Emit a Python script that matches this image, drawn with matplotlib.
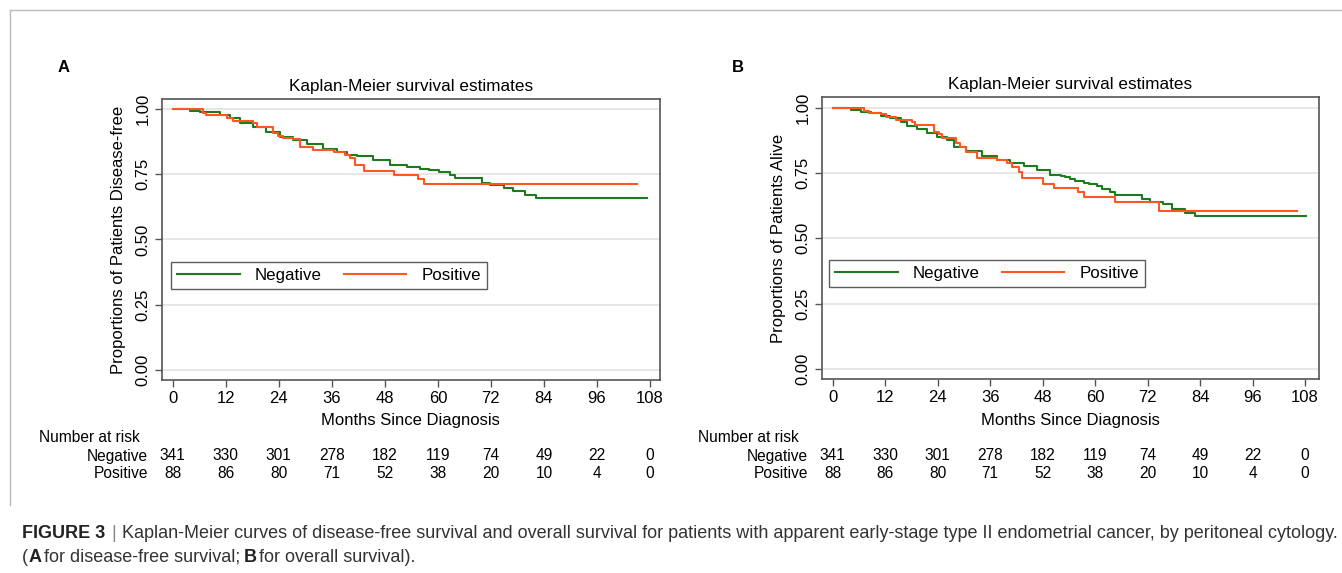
import matplotlib
matplotlib.use("Agg")
import matplotlib.pyplot as plt
from matplotlib.lines import Line2D
from matplotlib.transforms import blended_transform_factory
from matplotlib import font_manager

plt.rcParams['font.family'] = ['Liberation Sans', 'DejaVu Sans']

# ---------------- data ----------------
groups = ["Negative", "Positive"]
xticks = [0, 12, 24, 36, 48, 60, 72, 84, 96, 108]
yticks = [0.00, 0.25, 0.50, 0.75, 1.00]

# Panel A: disease-free survival
a_neg_t = [0, 3.9, 6.1, 10.7, 12.9, 15.2, 18.2, 21.2, 24.3, 27.3, 30.3, 34.1, 37.1, 39.4, 41.7,
           45.4, 49.2, 53.0, 56.0, 57.9, 60.2, 62.8, 63.9, 70.0, 71.9, 74.9, 77.0, 79.8, 82.1, 107.3]
a_neg_s = [1.0, 0.994, 0.989, 0.978, 0.964, 0.945, 0.930, 0.913, 0.894, 0.881, 0.866, 0.847, 0.837,
           0.824, 0.818, 0.805, 0.786, 0.779, 0.770, 0.767, 0.758, 0.747, 0.735, 0.718, 0.707, 0.696,
           0.684, 0.671, 0.658, 0.658]
a_pos_t = [0, 6.9, 7.6, 12.2, 13.7, 18.2, 19.0, 22.7, 23.9, 25.0, 27.3, 28.8, 31.8, 36.4, 39.0,
           40.1, 41.3, 43.2, 50.0, 55.6, 56.9, 105.1]
a_pos_s = [1.0, 0.986, 0.977, 0.964, 0.954, 0.945, 0.932, 0.909, 0.897, 0.888, 0.884, 0.853, 0.841,
           0.837, 0.824, 0.811, 0.786, 0.764, 0.747, 0.731, 0.713, 0.713]

# Panel B: overall survival
b_neg_t = [0, 4.1, 6.4, 8.7, 11.0, 13.2, 15.5, 17.0, 19.3, 21.6, 23.9, 26.2, 27.7, 30.4, 34.2, 37.6,
           40.6, 43.7, 46.7, 49.8, 52.1, 53.2, 54.3, 55.5, 57.4, 58.5, 60.4, 61.6, 63.5, 64.6, 70.7,
           72.6, 75.6, 77.5, 80.6, 82.9, 108.2]
b_neg_s = [1.0, 0.991, 0.985, 0.978, 0.969, 0.959, 0.944, 0.930, 0.917, 0.904, 0.889, 0.876, 0.851,
           0.835, 0.816, 0.800, 0.787, 0.777, 0.761, 0.742, 0.739, 0.733, 0.726, 0.721, 0.713, 0.708,
           0.700, 0.688, 0.679, 0.665, 0.649, 0.640, 0.630, 0.612, 0.598, 0.587, 0.587]
b_pos_t = [0, 7.2, 8.3, 11.0, 12.1, 14.4, 18.2, 18.9, 23.1, 24.3, 25.0, 28.1, 29.2, 30.4, 33.0, 37.6,
           39.9, 41.0, 42.5, 43.3, 48.2, 50.5, 56.2, 57.4, 64.6, 74.5, 106.1]
b_pos_s = [1.0, 0.989, 0.978, 0.976, 0.963, 0.953, 0.946, 0.934, 0.908, 0.899, 0.885, 0.864, 0.851,
           0.832, 0.806, 0.800, 0.790, 0.774, 0.755, 0.730, 0.708, 0.691, 0.679, 0.659, 0.640, 0.606,
           0.606]

risk_neg = [341, 330, 301, 278, 182, 119, 74, 49, 22, 0]
risk_pos = [88, 86, 80, 71, 52, 38, 20, 10, 4, 0]

titles = ["Kaplan-Meier survival estimates", "Kaplan-Meier survival estimates"]
ylabels = ["Proportions of Patients Disease-free", "Proportions of Patients Alive"]
xlabel = "Months Since Diagnosis"
panel_letters = ["A", "B"]
caption_bold = "FIGURE 3"
caption_rest = ("Kaplan-Meier curves of disease-free survival and overall survival for patients with "
                "apparent early-stage type II endometrial cancer, by peritoneal cytology.")

GREEN = "#1f7a1f"
ORANGE = "#ff5722"
SPINE = "#555555"

W, H = 1342, 573
fig = plt.figure(figsize=(W / 100, H / 100), dpi=100)
fig.patch.set_facecolor("white")


def px_axes(l, t, r, b):
    return fig.add_axes([l / W, 1 - b / H, (r - l) / W, (b - t) / H])


# figure border (thin light gray)
fig.add_artist(Line2D([10 / W, 1.0], [1 - 10 / H, 1 - 10 / H], color="#bbbbbb", lw=1.0,
                      transform=fig.transFigure))
fig.add_artist(Line2D([10 / W, 10 / W], [1 - 10 / H, 1 - 505 / H], color="#bbbbbb", lw=1.0,
                      transform=fig.transFigure))

panels = [
    dict(box=(161.7, 99, 660, 380), xlim=(-2.49, 110.26), ylim=(-0.0383, 1.0383),
         neg=(a_neg_t, a_neg_s), pos=(a_pos_t, a_pos_s), letter_xy=(64, 68),
         risk_label_x=148, nar_x=39, legend_px=(171, 258, 487, 289), ylab_x=126),
    dict(box=(821.7, 97.3, 1319.3, 379.3), xlim=(-2.52, 111.27), ylim=(-0.0394, 1.0398),
         neg=(b_neg_t, b_neg_s), pos=(b_pos_t, b_pos_s), letter_xy=(738, 68),
         risk_label_x=808, nar_x=698, legend_px=(829, 256, 1145, 287), ylab_x=786),
]

for i, p in enumerate(panels):
    l, t, r, b = p["box"]
    ax = px_axes(l, t, r, b)
    ax.set_xlim(*p["xlim"])
    ax.set_ylim(*p["ylim"])
    for y in yticks:
        ax.axhline(y, color="#e3e3e3", lw=1.2, zorder=0)
    ln1, = ax.step(p["neg"][0], p["neg"][1], where="post", color=GREEN, lw=1.5, zorder=3)
    ln2, = ax.step(p["pos"][0], p["pos"][1], where="post", color=ORANGE, lw=1.5, zorder=3)

    ax.set_xticks(xticks)
    ax.set_xticklabels([str(x) for x in xticks], fontsize=12)
    ax.set_yticks(yticks)
    ax.set_yticklabels([f"{y:.2f}" for y in yticks], fontsize=12, rotation=90, va="center")
    ax.tick_params(axis="both", direction="out", length=5, width=1, color=SPINE, pad=3)
    for s in ax.spines.values():
        s.set_color(SPINE)
        s.set_linewidth(1.2)

    ax.set_title(titles[i], fontsize=12.3, pad=6)
    ax.set_xlabel(xlabel, fontsize=12)
    ax.xaxis.set_label_coords(0.5, -(413 - b) / (b - t))
    ax.set_ylabel(ylabels[i], fontsize=12)
    ax.yaxis.set_label_coords(-(l - p["ylab_x"]) / (r - l), 0.5)

    # legend
    ll, lt, lr, lb = p["legend_px"]
    leg = ax.legend([ln1, ln2], groups, ncol=2, loc="lower left",
                    bbox_to_anchor=((ll - l) / (r - l), (b - lb) / (b - t),
                                    (lr - ll) / (r - l), (lb - lt) / (b - t)),
                    mode="expand", fontsize=12.2, frameon=True, fancybox=False,
                    handlelength=3.7, handletextpad=0.9, borderaxespad=0, borderpad=0.35,
                    columnspacing=2.0)
    leg.get_frame().set_edgecolor("#333333")
    leg.get_frame().set_linewidth(1.0)

    # panel letter
    fig.text(p["letter_xy"][0] / W, 1 - p["letter_xy"][1] / H, panel_letters[i],
             fontsize=12, fontweight="bold", ha="center", va="center")

    # number at risk table
    tr = blended_transform_factory(ax.transData, fig.transFigure)
    fig.text(p["nar_x"] / W, 1 - 437 / H, "Number at risk", fontsize=11.2, ha="left", va="center")
    fig.text(p["risk_label_x"] / W, 1 - 456 / H, groups[0], fontsize=11.2, ha="right", va="center")
    fig.text(p["risk_label_x"] / W, 1 - 473 / H, groups[1], fontsize=11.2, ha="right", va="center")
    for x, n1, n2 in zip(xticks, risk_neg, risk_pos):
        ax.text(x, 1 - 456 / H, str(n1), transform=tr, fontsize=11.2, ha="center", va="center")
        ax.text(x, 1 - 473 / H, str(n2), transform=tr, fontsize=11.2, ha="center", va="center")

# caption
fig.canvas.draw()
renderer = fig.canvas.get_renderer()
cap_fam = ["Liberation Sans Narrow", "Liberation Sans", "DejaVu Sans"]
avail = {f.name for f in font_manager.fontManager.ttflist}
cap_fam = [f for f in cap_fam if f in avail] or ["DejaVu Sans"]
cap_size = 13


def place(x_px, y_px, s, weight="normal", color="#333333"):
    t = fig.text(x_px / W, 1 - y_px / H, s, fontsize=cap_size, family=cap_fam, fontweight=weight,
                 color=color, ha="left", va="center")
    bb = t.get_window_extent(renderer)
    return x_px + bb.width


x = place(22, 533, caption_bold, weight="bold", color="#222222")
x = place(x + 6, 533, "|", color="#888888")
x = place(x + 6, 533, caption_rest)

x = place(22, 557, "(")
x = place(x, 557, "A", weight="bold", color="#222222")
x = place(x + 3, 557, "for disease-free survival;")
x = place(x + 3, 557, "B", weight="bold", color="#222222")
x = place(x + 3, 557, "for overall survival).")

fig.savefig("out.png", dpi=100, facecolor="white")
